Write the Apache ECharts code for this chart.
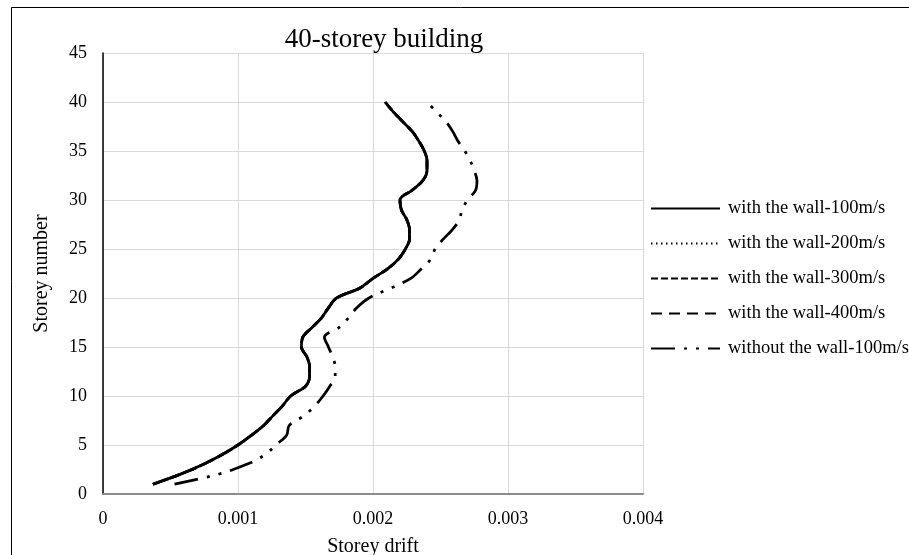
<!DOCTYPE html>
<html>
<head>
<meta charset="utf-8">
<script src="https://cdn.jsdelivr.net/npm/echarts@6/dist/echarts.min.js"></script>
<style>
  html, body { margin: 0; padding: 0; background: #fff; }
  #chart { width: 909px; height: 555px; }
</style>
</head>
<body>
<div id="chart"></div>
<script>
// Storey numbers 1..40
const storeys = [];
for (let s = 1; s <= 40; s++) storeys.push(s);

// Storey drift with the wall, wind speed 100 m/s
const wall100 = [
  0.00037, 0.00057, 0.00074, 0.00088, 0.00100, 0.00110, 0.00119, 0.00126, 0.00133, 0.00139,
  0.00150, 0.00153, 0.00153, 0.00151, 0.00147, 0.00148, 0.00155, 0.00162, 0.00167, 0.00173,
  0.00190, 0.00200, 0.00211, 0.00219, 0.00224, 0.00227, 0.00227, 0.00225, 0.00221, 0.00220,
  0.00229, 0.00237, 0.00240, 0.00240, 0.00238, 0.00234, 0.00229, 0.00222, 0.00215, 0.00209
];
// The 200, 300 and 400 m/s runs with the wall coincide with the 100 m/s run
const wall200 = wall100.slice();
const wall300 = wall100.slice();
const wall400 = wall100.slice();

// Storey drift without the wall, wind speed 100 m/s
const noWall100 = [
  0.00053, 0.00085, 0.00106, 0.00120, 0.00128, 0.00136, 0.00138, 0.00149, 0.00157, 0.00163,
  0.00168, 0.00172, 0.00172, 0.00170, 0.00167, 0.00164, 0.00175, 0.00182, 0.00188, 0.00197,
  0.00213, 0.00228, 0.00236, 0.00243, 0.00246, 0.00252, 0.00259, 0.00264, 0.00266, 0.00270,
  0.00276, 0.00277, 0.00275, 0.00272, 0.00268, 0.00263, 0.00259, 0.00254, 0.00247, 0.00240
];

const seriesNames = [
  'with the wall-100m/s',
  'with the wall-200m/s',
  'with the wall-300m/s',
  'with the wall-400m/s',
  'without the wall-100m/s'
];

const FONT = '"Liberation Serif", "Times New Roman", serif';

function pairs(xs) {
  return xs.map((x, i) => [x, storeys[i]]);
}

function lineSeries(name, values, dash, width) {
  return {
    name: name,
    type: 'line',
    data: pairs(values),
    smooth: 0.35,
    symbol: 'none',
    showSymbol: false,
    lineStyle: { color: '#000', width: width, type: dash, cap: 'butt' },
    itemStyle: { color: '#000' },
    emphasis: { disabled: true }
  };
}

const chart = echarts.init(document.getElementById('chart'), null, { renderer: 'canvas' });

chart.setOption({
  animation: false,
  backgroundColor: '#fff',
  textStyle: { fontFamily: FONT },
  title: {
    text: '40-storey building',
    left: 379,
    top: 21,
    textAlign: 'center',
    textStyle: { fontFamily: FONT, fontSize: 27, fontWeight: 'normal', color: '#000' }
  },
  graphic: [{
    type: 'rect',
    shape: { x: 11.5, y: 7.5, width: 920, height: 570 },
    style: { fill: 'none', stroke: '#000', lineWidth: 1 },
    silent: true,
    z: -1
  }],
  grid: { left: 103, right: 266, top: 53, bottom: 61, outerBoundsMode: 'none', containLabel: false },
  legend: {
    orient: 'vertical',
    left: 650,
    top: 199,
    padding: 0,
    itemWidth: 69,
    itemHeight: 16,
    itemGap: 16,
    data: seriesNames,
    itemStyle: { opacity: 0 },
    textStyle: { fontFamily: FONT, fontSize: 18.5, color: '#000', padding: [0, 0, 0, 3] }
  },
  xAxis: {
    type: 'value',
    min: 0,
    max: 0.004,
    interval: 0.001,
    name: 'Storey drift',
    nameLocation: 'middle',
    nameGap: 43,
    nameTextStyle: { fontFamily: FONT, fontSize: 20, color: '#000' },
    axisLine: { show: true, onZero: false, lineStyle: { color: '#8c8c8c', width: 2 } },
    axisTick: { show: false },
    axisLabel: { margin: 16, fontFamily: FONT, fontSize: 18, color: '#000' },
    splitLine: { show: true, lineStyle: { color: '#d9d9d9', width: 1 } }
  },
  yAxis: {
    type: 'value',
    min: 0,
    max: 45,
    interval: 5,
    name: 'Storey number',
    nameLocation: 'middle',
    nameGap: 51,
    nameTextStyle: { fontFamily: FONT, fontSize: 20, color: '#000' },
    axisLine: { show: true, onZero: false, lineStyle: { color: '#000', width: 1.5 } },
    axisTick: { show: false },
    axisLabel: { margin: 16, fontFamily: FONT, fontSize: 18, color: '#000' },
    splitLine: { show: true, lineStyle: { color: '#d9d9d9', width: 1 } }
  },
  series: [
    lineSeries(seriesNames[0], wall100, 'solid', 2.75),
    lineSeries(seriesNames[1], wall200, [1.5, 3.5], 2),
    lineSeries(seriesNames[2], wall300, [7, 3], 2.75),
    lineSeries(seriesNames[3], wall400, [11, 7], 2.75),
    lineSeries(seriesNames[4], noWall100, [24, 9, 3, 9, 3, 9], 2.75)
  ]
});
</script>
</body>
</html>
